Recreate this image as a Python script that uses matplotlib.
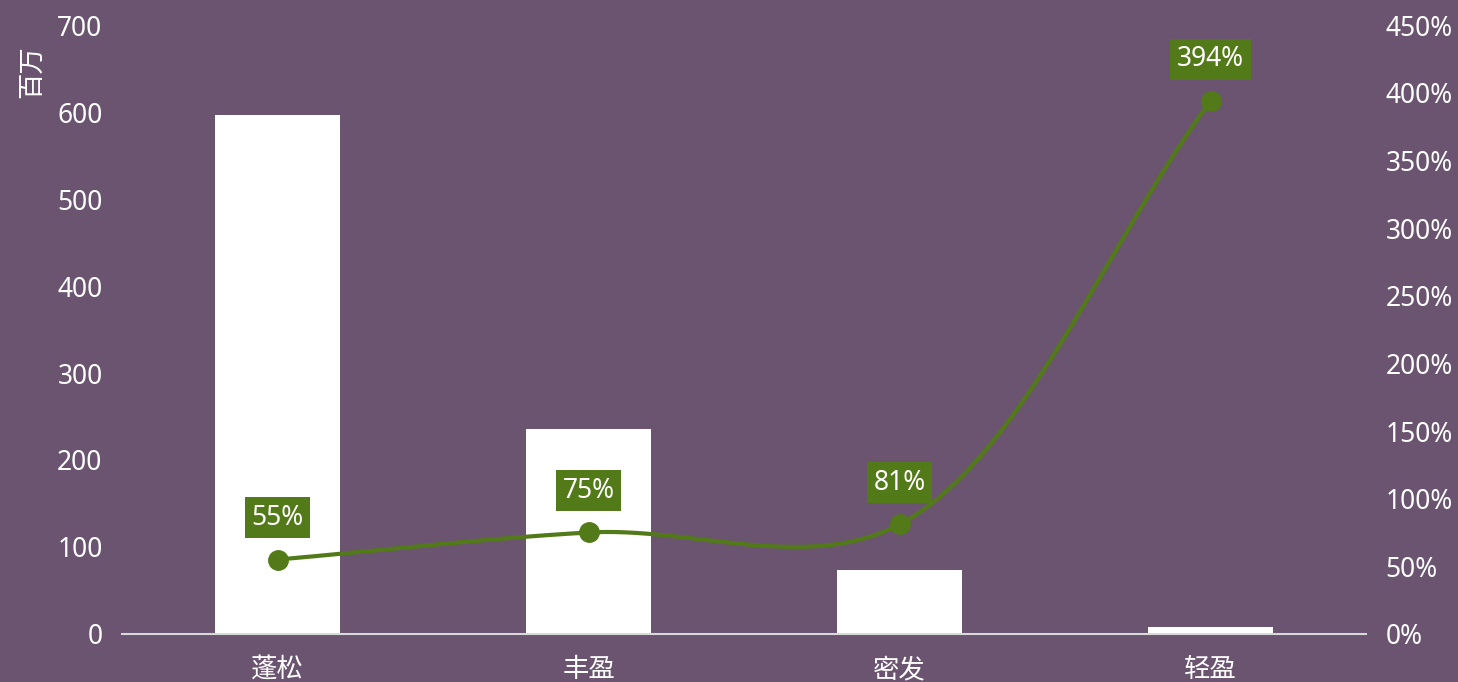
import numpy as np
import matplotlib
matplotlib.use("Agg")
import matplotlib.pyplot as plt

plt.rcParams["font.family"] = ["Noto Sans", "Noto Sans CJK SC", "DejaVu Sans"]

BG = "#6A5470"
GREEN = "#537A18"

categories = ["蓬松", "丰盈", "密发", "轻盈"]
sales = [597, 236, 73, 8]            # 百万
growth = [55, 75, 81, 394]           # %
left_ticks = [0, 100, 200, 300, 400, 500, 600, 700]
right_ticks = [0, 50, 100, 150, 200, 250, 300, 350, 400, 450]


def smooth_line(x, y, sx=311.0, sy=609 / 450, n=60, alpha=0.5):
    """Centripetal Catmull-Rom through the points, computed in pixel space."""
    P = np.column_stack([np.asarray(x, float) * sx, np.asarray(y, float) * sy])
    P = np.vstack([2 * P[0] - P[1], P, 2 * P[-1] - P[-2]])
    out = []
    for i in range(1, len(P) - 2):
        p0, p1, p2, p3 = P[i - 1], P[i], P[i + 1], P[i + 2]
        t0 = 0.0
        t1 = t0 + np.linalg.norm(p1 - p0) ** alpha
        t2 = t1 + np.linalg.norm(p2 - p1) ** alpha
        t3 = t2 + np.linalg.norm(p3 - p2) ** alpha
        t = np.linspace(t1, t2, n)[:, None]
        a1 = (t1 - t) / (t1 - t0) * p0 + (t - t0) / (t1 - t0) * p1
        a2 = (t2 - t) / (t2 - t1) * p1 + (t - t1) / (t2 - t1) * p2
        a3 = (t3 - t) / (t3 - t2) * p2 + (t - t2) / (t3 - t2) * p3
        b1 = (t2 - t) / (t2 - t0) * a1 + (t - t0) / (t2 - t0) * a2
        b2 = (t3 - t) / (t3 - t1) * a2 + (t - t1) / (t3 - t1) * a3
        out.append((t2 - t) / (t2 - t1) * b1 + (t - t1) / (t2 - t1) * b2)
    c = np.vstack(out)
    return c[:, 0] / sx, c[:, 1] / sy


fig = plt.figure(figsize=(14.58, 6.82), dpi=100, facecolor=BG)
ax = fig.add_axes([0.0837, 0.0704, 0.8532, 0.8929], facecolor=BG)
x = np.arange(len(categories))

ax.bar(x, sales, width=0.4, color="white", zorder=2)
ax.set_xlim(-0.5, len(categories) - 0.5)
ax.set_ylim(0, 700)
ax.set_yticks(left_ticks)
ax.set_xticks(x)
ax.set_xticklabels(categories)
ax.tick_params(axis="both", length=0, colors="white", labelsize=19)
ax.tick_params(axis="y", pad=14)
ax.tick_params(axis="x", pad=16)
for s in ["top", "left", "right"]:
    ax.spines[s].set_visible(False)
ax.spines["bottom"].set_color("#D9D9D9")
ax.spines["bottom"].set_linewidth(1.5)
ax.spines["bottom"].set_zorder(3)

ax2 = ax.twinx()
ax2.set_ylim(0, 450)
ax2.set_yticks(right_ticks)
ax2.set_yticklabels([f"{t}%" for t in right_ticks])
ax2.tick_params(axis="y", length=0, colors="white", labelsize=19, pad=14)
for s in ax2.spines.values():
    s.set_visible(False)

lx, ly = smooth_line(x, growth)
ax2.plot(lx, ly, color=GREEN, lw=3, zorder=4, solid_capstyle="round")
ax2.plot(x, growth, "o", color=GREEN, ms=14, zorder=5)
for xi, g in zip(x, growth):
    ax2.annotate(f"{g}%", (xi, g), xytext=(0, 30), textcoords="offset points",
                 ha="center", va="center", color="white", fontsize=19,
                 bbox=dict(boxstyle="square,pad=0.25", fc=GREEN, ec="none"),
                 zorder=6)

fig.text(33 / 1458, 1 - 72 / 682, "百万", rotation=90, color="white",
         fontsize=19, ha="center", va="center")

fig.savefig("out.png", dpi=100, facecolor=BG)
